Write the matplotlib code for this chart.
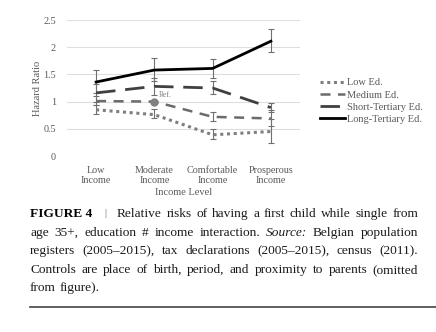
import matplotlib
matplotlib.use("Agg")
import matplotlib.pyplot as plt
from matplotlib.lines import Line2D

# ====== Data ======
categories = ["Low\nIncome", "Moderate\nIncome", "Comfortable\nIncome", "Prosperous\nIncome"]
series_names = ["Low Ed.", "Medium Ed.", "Short-Tertiary Ed.", "Long-Tertiary Ed."]

low_ed = [0.85, 0.76, 0.39, 0.45]
low_ed_lo = [0.78, 0.69, 0.31, 0.23]
low_ed_hi = [0.93, 0.87, 0.50, 0.68]

medium_ed = [1.01, 1.00, 0.72, 0.69]
medium_ed_lo = [0.93, 1.00, 0.64, 0.55]
medium_ed_hi = [1.10, 1.00, 0.80, 0.84]

short_ter = [1.16, 1.28, 1.25, 0.89]
short_ter_lo = [1.00, 1.13, 1.14, 0.80]
short_ter_hi = [1.33, 1.44, 1.37, 0.98]

long_ter = [1.36, 1.58, 1.61, 2.11]
long_ter_lo = [1.15, 1.37, 1.44, 1.91]
long_ter_hi = [1.58, 1.81, 1.78, 2.33]

ref_idx = 1  # Medium Ed. x Moderate Income is the reference
yticks = [0, 0.5, 1, 1.5, 2, 2.5]
ytick_labels = ["0", "0.5", "1", "1.5", "2", "2.5"]

# words starting with "_" are set in italics
caption_lines = [
    "Relative risks of having a first child while single from",
    "age 35+, education # income interaction. _Source: Belgian population",
    "registers (2005\u20132015), tax declarations (2005\u20132015), census (2011).",
    "Controls are place of birth, period, and proximity to parents (omitted",
    "from figure).",
]

plt.rcParams["font.family"] = ["Liberation Serif", "DejaVu Serif"]

W, H = 436, 332
fig = plt.figure(figsize=(W / 100, H / 100), dpi=100)
ax = fig.add_axes([67 / W, 1 - 156 / H, (300 - 67) / W, (156 - 20) / H])

x = list(range(len(categories)))
styles = [
    (low_ed, low_ed_lo, low_ed_hi, "#7f7f7f", (0, (1, 1.2)), 2.2),
    (medium_ed, medium_ed_lo, medium_ed_hi, "#6b6b6b", (0, (4, 3)), 1.8),
    (short_ter, short_ter_lo, short_ter_hi, "#404040", (0, (7, 3.5)), 2.0),
    (long_ter, long_ter_lo, long_ter_hi, "#000000", "-", 2.0),
]
handles = []
for (vals, lo, hi, col, ls, lw), name in zip(styles, series_names):
    ax.plot(x, vals, color=col, linestyle=ls, lw=lw, zorder=3)
    errs = [[v - l for v, l in zip(vals, lo)], [h - v for v, h in zip(vals, hi)]]
    ax.errorbar(x, vals, yerr=errs, fmt="none", ecolor="#707070", elinewidth=0.8,
                capsize=2.5, capthick=0.8, zorder=2)
    handles.append(Line2D([], [], color=col, linestyle=ls, lw=lw))

ax.plot([ref_idx], [medium_ed[ref_idx]], "o", color="#808080", ms=5, zorder=4)
ax.annotate("Ref.", (ref_idx, medium_ed[ref_idx]), xytext=(3, 3),
            textcoords="offset points", fontsize=5.5, color="#7f7f7f")

ax.set_xlim(-0.5, 3.5)
ax.set_ylim(0, 2.5)
ax.set_yticks(yticks)
ax.set_yticklabels(ytick_labels)
ax.set_xticks(x)
ax.set_xticklabels(categories)
ax.grid(axis="y", color="#dedede", lw=0.8)
ax.set_axisbelow(True)
for s in ax.spines.values():
    s.set_visible(False)
ax.tick_params(length=0, labelsize=7.3, colors="#595959", pad=7)
ax.tick_params(axis="y", pad=8)
ax.set_ylabel("Hazard Ratio", fontsize=7.5, color="#595959", labelpad=1)
ax.set_xlabel("Income Level", fontsize=7.5, color="#595959", labelpad=2)

fig.legend(handles, series_names, loc="upper left", bbox_to_anchor=(316 / W, 1 - 74 / H),
           frameon=False, fontsize=7.5, handlelength=2.4, handletextpad=0.15,
           labelspacing=0.28, labelcolor="#595959", borderaxespad=0)

# ====== Caption (justified) ======
renderer = fig.canvas.get_renderer()
left, right = 30, 418
cap_fs = 9.6
fig.text(left / W, 1 - 214 / H, "FIGURE 4", fontsize=cap_fs, weight="bold", va="center")
fig.text(104 / W, 1 - 214 / H, "|", fontsize=cap_fs * 0.75, color="#555555", va="center")
probe1 = fig.text(0, 0, "a b", fontsize=cap_fs)
probe2 = fig.text(0, 0, "ab", fontsize=cap_fs)
space = probe1.get_window_extent(renderer).width - probe2.get_window_extent(renderer).width
probe1.remove()
probe2.remove()

y0, dy = 214, 18.6
for i, line in enumerate(caption_lines):
    y = 1 - (y0 + i * dy) / H
    start = 117 if i == 0 else left
    arts = []
    for w in line.split(" "):
        style = "normal"
        if w.startswith("_"):
            w, style = w[1:], "italic"
        arts.append(fig.text(0, y, w, fontsize=cap_fs, va="center", color="#1a1a1a", style=style))
    widths = [a.get_window_extent(renderer).width for a in arts]
    if i == len(caption_lines) - 1:
        gap = space
    else:
        gap = (right - start - sum(widths)) / max(len(arts) - 1, 1)
    xpos = start
    for a, w in zip(arts, widths):
        a.set_x(xpos / W)
        xpos += w + gap

fig.add_artist(Line2D([30 / W, 1.0], [1 - 307 / H, 1 - 307 / H], color="#444444", lw=1.2))

fig.savefig("out.png", dpi=100)
